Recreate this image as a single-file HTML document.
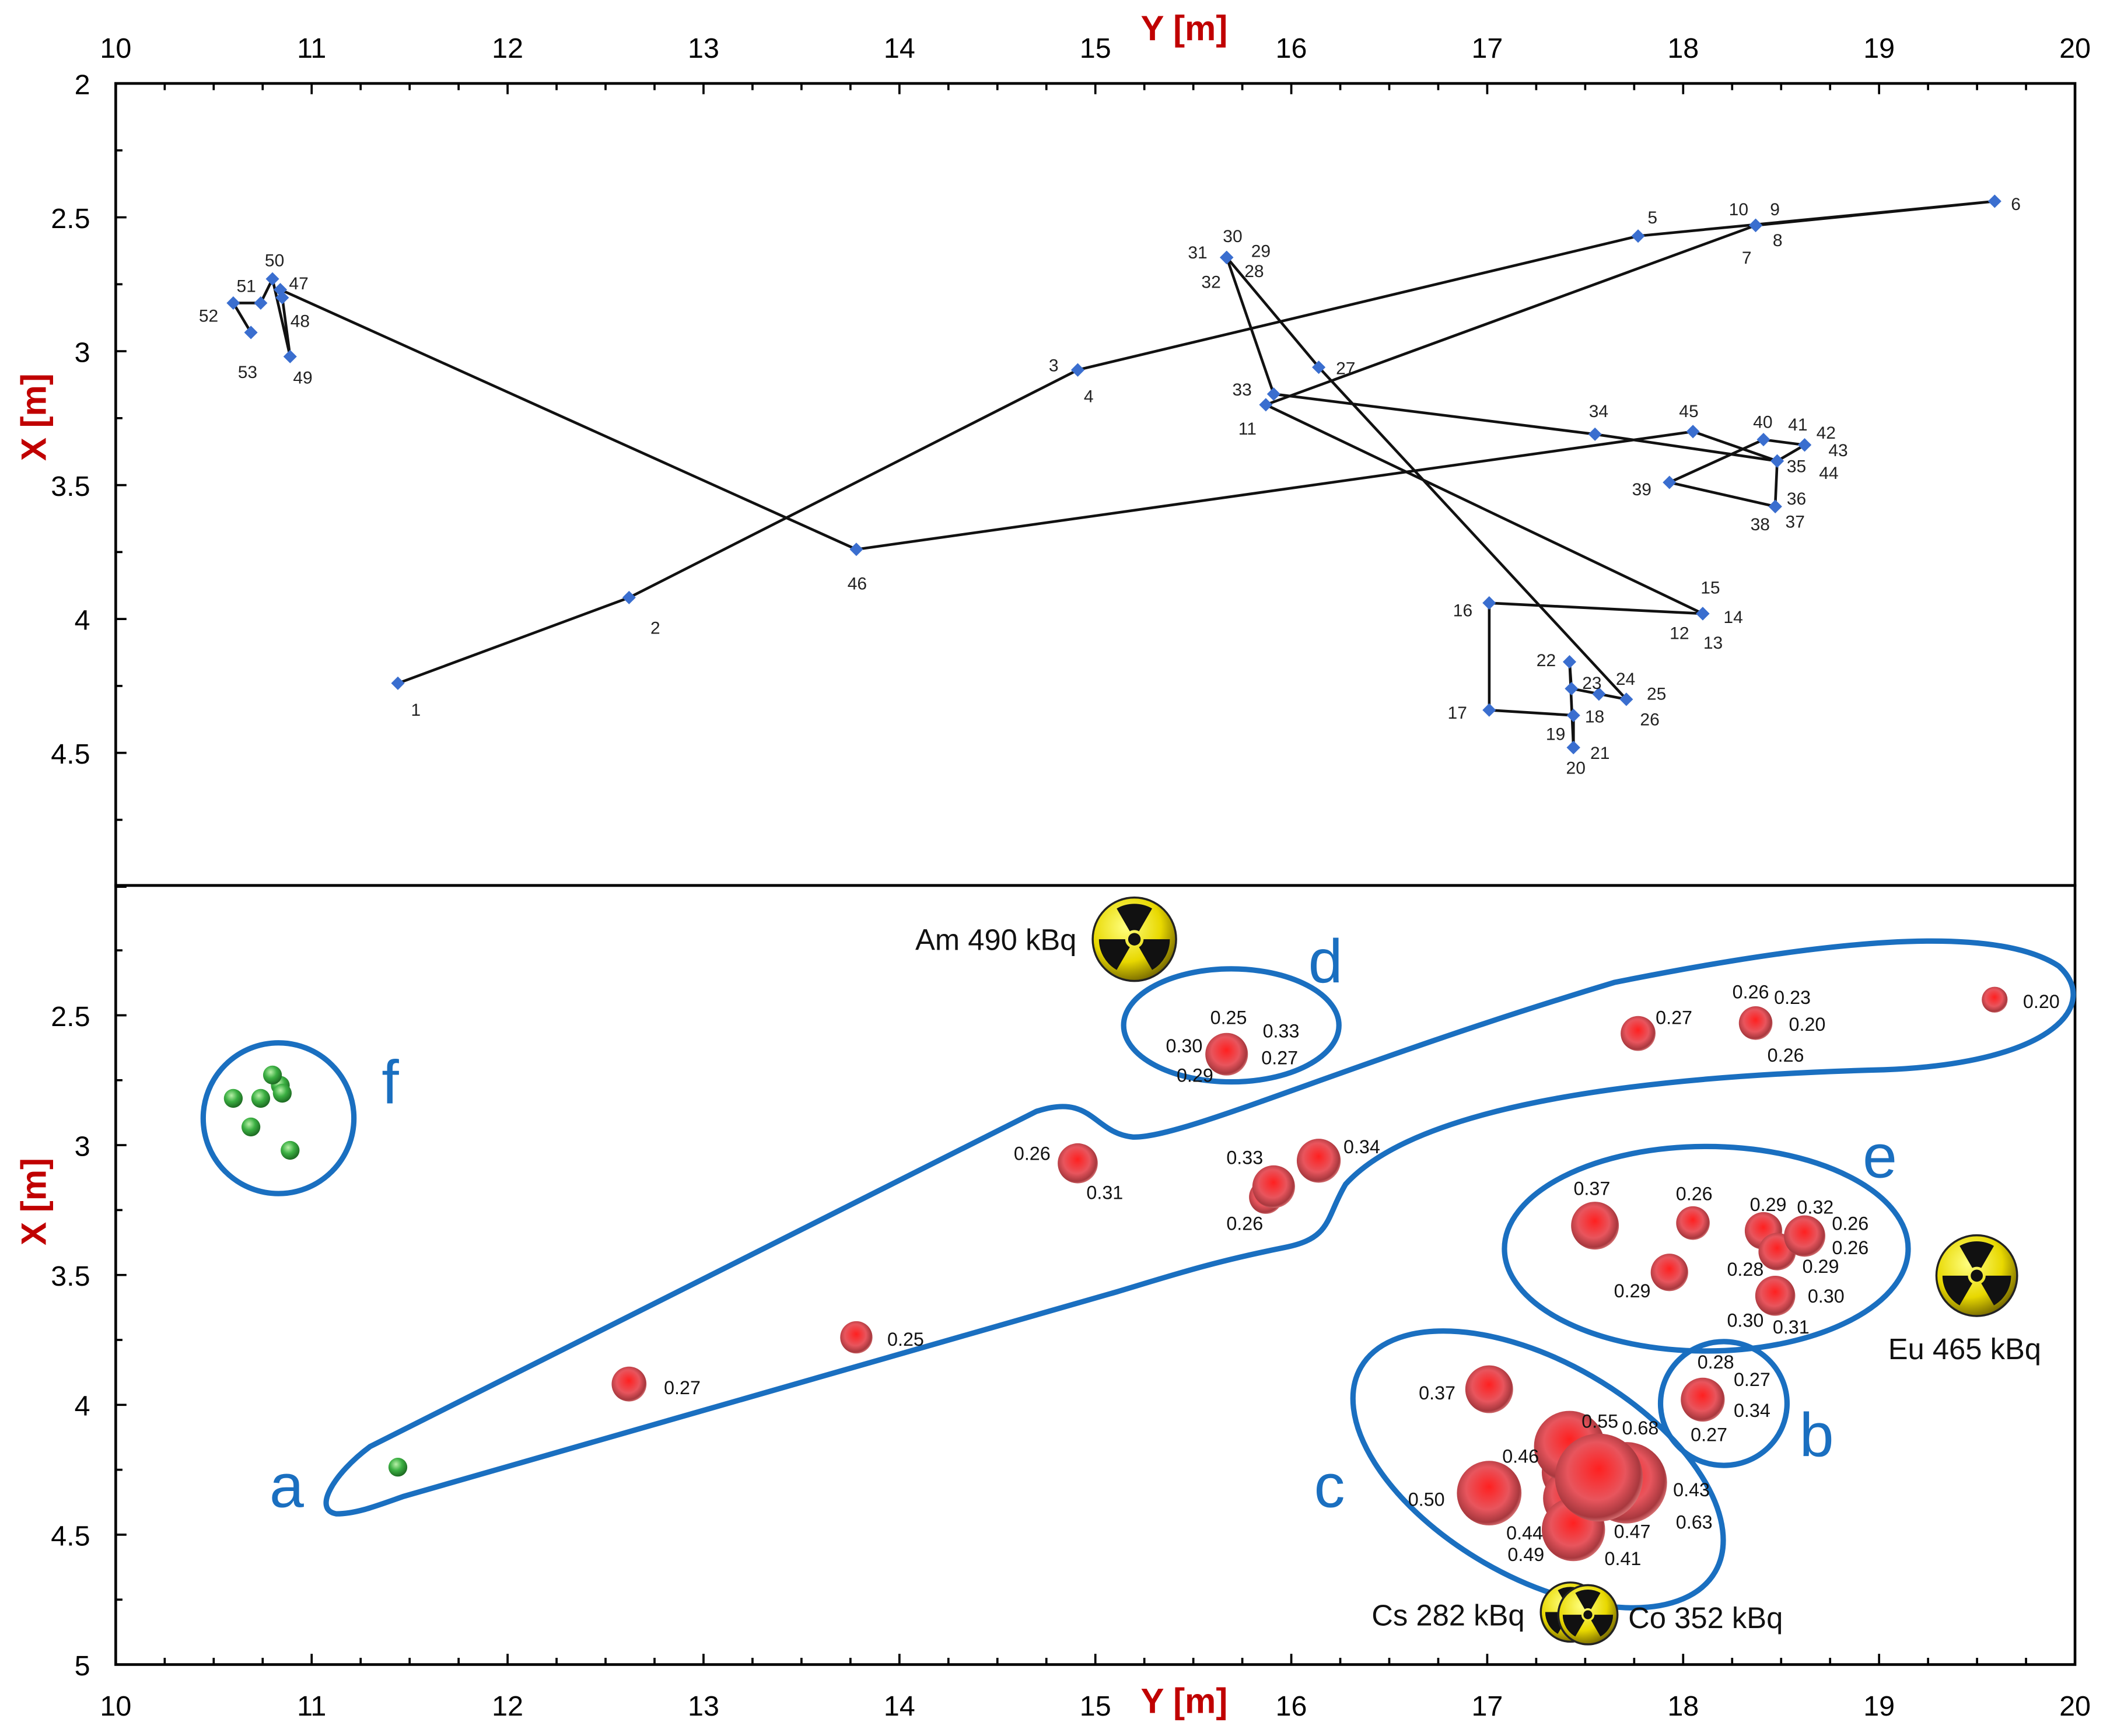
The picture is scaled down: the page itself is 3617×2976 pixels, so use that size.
<!DOCTYPE html>
<html><head><meta charset="utf-8"><style>
html,body{margin:0;padding:0;background:#fff;}
svg{display:block;}
text{font-family:"Liberation Sans",Arial,sans-serif;}
</style></head><body>
<svg id="chart" xmlns="http://www.w3.org/2000/svg" width="3617" height="2976" viewBox="0 0 1568 1290.1" preserveAspectRatio="none">
<defs>
<radialGradient id="redG" cx="0.45" cy="0.45" r="0.6" fx="0.5" fy="0.4">
<stop offset="0" stop-color="#ff2020"/><stop offset="0.55" stop-color="#e8555d"/><stop offset="0.85" stop-color="#a8383e"/><stop offset="1" stop-color="#f09090"/></radialGradient>
<radialGradient id="greenG" cx="0.4" cy="0.35" r="0.65"><stop offset="0" stop-color="#b8f0a8"/><stop offset="0.5" stop-color="#3cb043"/><stop offset="1" stop-color="#1d6b22"/></radialGradient>
<radialGradient id="yelG" cx="0.4" cy="0.35" r="0.7"><stop offset="0" stop-color="#ffff80"/><stop offset="0.6" stop-color="#e8d800"/><stop offset="1" stop-color="#6b5e00"/></radialGradient>
</defs>
<g id="topPlot"></g>
<g id="botPlot"></g>
</svg>
<script>
// ---- data ----
const ptY=[11.44,12.62,14.91,14.91,17.77,19.59,18.37,18.37,18.37,18.37,15.87,18.10,18.10,18.10,18.10,17.01,17.01,17.44,17.44,17.44,17.44,17.42,17.43,17.57,17.57,17.71,16.14,15.67,15.67,15.67,15.67,15.67,15.91,17.55,18.48,18.47,18.47,18.47,17.93,18.41,18.62,18.62,18.62,18.48,18.05,13.78,10.84,10.85,10.89,10.80,10.74,10.60,10.69];
const ptX=[4.24,3.92,3.07,3.07,2.57,2.44,2.53,2.53,2.53,2.53,3.20,3.98,3.98,3.98,3.98,3.94,4.34,4.36,4.48,4.48,4.48,4.16,4.26,4.28,4.28,4.30,3.06,2.65,2.65,2.65,2.65,2.65,3.16,3.31,3.41,3.58,3.58,3.58,3.49,3.33,3.35,3.35,3.35,3.41,3.30,3.74,2.77,2.80,3.02,2.73,2.82,2.82,2.93];
const ptLabels=[["1",309,527],["2",487,466],["3",783,271],["4",809,294],["5",1228,161],["6",1498,151],["10",1292,155],["9",1319,155],["7",1298,191],["8",1321,178],["30",916,175],["29",937,186],["31",890,187],["28",932,201],["32",900,209],["27",1000,273],["33",923,289],["11",927,318],["34",1188,305],["45",1255,305],["40",1310,313],["41",1336,315],["42",1357,321],["43",1366,334],["35",1335,346],["44",1359,351],["39",1220,363],["36",1335,370],["37",1334,387],["38",1308,389],["46",637,433],["15",1271,436],["14",1288,458],["12",1248,470],["13",1273,477],["16",1087,453],["17",1083,529],["22",1149,490],["23",1183,507],["24",1208,504],["25",1231,515],["26",1226,534],["18",1185,532],["19",1156,545],["20",1171,570],["21",1189,559],["47",222,210],["50",204,193],["51",183,212],["52",155,234],["48",223,238],["53",184,276],["49",225,280]];
const bubY=[12.62,14.91,17.77,19.59,18.37,15.67,16.14,15.87,15.91,17.55,18.05,18.41,18.62,18.48,17.93,18.47,13.78,18.10,17.01,17.01,17.44,17.42,17.43,17.57,17.71,17.44];
const bubX=[3.92,3.07,2.57,2.44,2.53,2.65,3.06,3.20,3.16,3.31,3.30,3.33,3.35,3.41,3.49,3.58,3.74,3.98,3.94,4.34,4.48,4.16,4.26,4.28,4.30,4.36];
const bubVal=[0.27,0.31,0.27,0.20,0.26,0.33,0.34,0.26,0.33,0.37,0.26,0.29,0.32,0.29,0.29,0.31,0.25,0.34,0.37,0.50,0.49,0.55,0.46,0.68,0.63,0.47];
const greenY=[11.44,10.84,10.85,10.89,10.80,10.74,10.60,10.69];
const greenX=[4.24,2.77,2.80,3.02,2.73,2.82,2.82,2.93];
const doseLabels=[["0.27",507,1031],["0.25",673,995],["0.26",767,857],["0.31",821,886],["0.25",913,756],["0.33",952,766],["0.30",880,777],["0.27",951,786],["0.29",888,799],["0.33",925,860],["0.26",925,909],["0.34",1012,852],["0.27",1244,756],["0.26",1301,737],["0.23",1332,741],["0.20",1343,761],["0.26",1327,784],["0.20",1517,744],["0.37",1183,883],["0.26",1259,887],["0.29",1314,895],["0.32",1349,897],["0.26",1375,909],["0.26",1375,927],["0.29",1353,941],["0.28",1297,943],["0.29",1213,959],["0.30",1357,963],["0.30",1297,981],["0.31",1331,986],["0.28",1275,1012],["0.27",1302,1025],["0.34",1302,1048],["0.27",1270,1066],["0.37",1068,1035],["0.55",1189,1056],["0.68",1219,1061],["0.46",1130,1082],["0.50",1060,1114],["0.43",1257,1107],["0.63",1259,1131],["0.44",1133,1139],["0.47",1213,1138],["0.49",1134,1155],["0.41",1206,1158]];
const yTicks=[10,11,12,13,14,15,16,17,18,19,20];
const xTicksTop=[2,2.5,3,3.5,4,4.5];
const xTicksBot=[2.5,3,3.5,4,4.5,5];

// ---- axes ----
const L=86,R=1542,T=62,M=658,B=1237;
const sx=y=>L+(y-10)*145.6;
const sTop=x=>T+(x-2)*199;
const sBot=x=>M+(x-2)*193;
const NS='http://www.w3.org/2000/svg';
function mk(parent,tag,attrs,txt){const el=document.createElementNS(NS,tag);for(const k in attrs)el.setAttribute(k,attrs[k]);if(txt!==undefined)el.textContent=txt;parent.appendChild(el);return el;}
const gTop=document.getElementById('topPlot'),gBot=document.getElementById('botPlot');
let e;

e=mk(gTop,'rect',{x:L,y:T,width:R-L,height:M-T,fill:'none',stroke:'#000','stroke-width':2});


e=mk(gBot,'rect',{x:L,y:M,width:R-L,height:B-M,fill:'none',stroke:'#000','stroke-width':2});



for(let v=10;v<=20.001;v+=0.25){
  const x=sx(v),maj=Math.abs(v-Math.round(v))<1e-6,len=maj?8:5;
  e=mk(gTop,'line',{x1:x,y1:T,x2:x,y2:T+len,stroke:'#000','stroke-width':1.6});
  
  
  e=mk(gBot,'line',{x1:x,y1:B,x2:x,y2:B-len,stroke:'#000','stroke-width':1.6});
  
  
}
for(let v=2;v<=5.001;v+=0.25){
  const maj=Math.abs(v*2-Math.round(v*2))<1e-6,len=maj?8:5;
  e=mk(gTop,'line',{x1:L,y1:sTop(v),x2:L+len,y2:sTop(v),stroke:'#000','stroke-width':1.6});
  
  
  e=mk(gBot,'line',{x1:L,y1:sBot(v),x2:L+len,y2:sBot(v),stroke:'#000','stroke-width':1.6});
  
  
}
yTicks.forEach(v=>{
  e=mk(gTop,'text',{x:sx(v),y:43,'font-size':21,'text-anchor':'middle'},String(v));
  
  
  e=mk(gBot,'text',{x:sx(v),y:1275,'font-size':21,'text-anchor':'middle'},String(v));
  
  
});
xTicksTop.forEach(v=>{
  e=mk(gTop,'text',{x:67,y:sTop(v)+8,'font-size':21,'text-anchor':'end'},String(v));
  
  
});
xTicksBot.forEach(v=>{
  e=mk(gBot,'text',{x:67,y:sBot(v)+8,'font-size':21,'text-anchor':'end'},String(v));
  
  
});
[[880,30,0,gTop,'top-axis-title','Y [m]'],[880,1273,0,gBot,'bottom-axis-title','Y [m]'],[34,310,-90,gTop,'top-left-axis-title','X [m]'],[34,893,-90,gBot,'bottom-left-axis-title','X [m]']].forEach(a=>{
  e=mk(a[3],'text',{x:a[0],y:a[1],'font-size':26,'font-weight':'bold',fill:'#c00000','text-anchor':'middle',transform:`rotate(${a[2]} ${a[0]} ${a[1]})`},a[5]);
  
  
});

let d='';ptY.forEach((y,i)=>{d+=(i?'L':'M')+sx(y).toFixed(1)+' '+sTop(ptX[i]).toFixed(1)+' ';});
e=mk(gTop,'path',{d:d,fill:'none',stroke:'#111','stroke-width':2,'stroke-linejoin':'round'});


ptY.forEach((y,i)=>{
  const cx=sx(y),cy=sTop(ptX[i]);
  e=mk(gTop,'path',{d:`M${cx} ${cy-5}L${cx+5} ${cy}L${cx} ${cy+5}L${cx-5} ${cy}Z`,fill:'#3a6ecf'});
  
  
});
ptLabels.forEach(l=>{
  e=mk(gTop,'text',{x:l[1],y:l[2]+5,'font-size':13,'text-anchor':'middle',fill:'#222'},l[0]);
  
  
});

const blue='#1a6fc0';
e=mk(gBot,'path',{d:'M250 1125 C232 1122 248 1095 275 1075 L770 826 C812 812 812 842 842 845 C880 846 1000 790 1200 730 C1350 700 1480 685 1530 718 C1560 745 1530 790 1400 795 C1200 800 1050 825 1000 880 C985 905 990 920 955 927 C900 938 870 948 830 960 L300 1112 C280 1119 265 1125 250 1125 Z',fill:'none',stroke:blue,'stroke-width':4});


[['group-b-outline',1281,1043,47,46,0],['group-c-outline',1143,1092,152,80,30],['group-d-outline',915,762,80,42,0],['group-e-outline',1268,928,150,76,0],['group-f-outline',207,831,56,56,0]].forEach(o=>{
  e=mk(gBot,'ellipse',{cx:o[1],cy:o[2],rx:o[3],ry:o[4],transform:`rotate(${o[5]} ${o[1]} ${o[2]})`,fill:'none',stroke:blue,'stroke-width':4});
  
  
});
[['a',213,1120],['b',1350,1082],['c',988,1120],['d',985,730],['e',1397,875],['f',290,820]].forEach(t=>{
  e=mk(gBot,'text',{x:t[1],y:t[2],'font-size':46,fill:blue,'text-anchor':'middle'},t[0]);
  
  
});

const order=bubVal.map((v,i)=>i).sort((a,b)=>bubVal[a]-bubVal[b]);
order.forEach(i=>{
  e=mk(gBot,'circle',{cx:sx(bubY[i]),cy:sBot(bubX[i]),r:bubVal[i]*48,fill:'url(#redG)'});
  
  
});
greenY.forEach((y,i)=>{
  e=mk(gBot,'circle',{cx:sx(y),cy:sBot(greenX[i]),r:7,fill:'url(#greenG)'});
  
  
});
doseLabels.forEach(l=>{
  e=mk(gBot,'text',{x:l[1],y:l[2]+5,'font-size':14,'text-anchor':'middle',fill:'#111'},l[0]);
  
  
});

function rad(cx,cy,r,name){
  const g=mk(gBot,'g',{});
  
  
  mk(g,'circle',{cx:cx,cy:cy,r:r,fill:'url(#yelG)',stroke:'#222','stroke-width':1.5});
  const r1=r*0.22,r2=r*0.85;
  [-90,30,150].forEach(a=>{
    const a1=(a-30)*Math.PI/180,a2=(a+30)*Math.PI/180;
    mk(g,'path',{d:`M${cx+r1*Math.cos(a1)} ${cy+r1*Math.sin(a1)} L${cx+r2*Math.cos(a1)} ${cy+r2*Math.sin(a1)} A${r2} ${r2} 0 0 1 ${cx+r2*Math.cos(a2)} ${cy+r2*Math.sin(a2)} L${cx+r1*Math.cos(a2)} ${cy+r1*Math.sin(a2)} A${r1} ${r1} 0 0 0 ${cx+r1*Math.cos(a1)} ${cy+r1*Math.sin(a1)}Z`,fill:'#111'});
  });
  mk(g,'circle',{cx:cx,cy:cy,r:r*0.15,fill:'#111'});
}
rad(843,698,31,'am-source-icon');
rad(1469,948,30,'eu-source-icon');
rad(1167,1198,22,'cs-source-icon');
rad(1180,1200,22,'co-source-icon');
[['Am 490 kBq',800,706,'end','am-source-label'],['Eu 465 kBq',1460,1010,'middle','eu-source-label'],['Cs 282 kBq',1133,1208,'end','cs-source-label'],['Co 352 kBq',1210,1210,'start','co-source-label']].forEach(t=>{
  e=mk(gBot,'text',{x:t[1],y:t[2],'font-size':22,'text-anchor':t[3],fill:'#111'},t[0]);
  
  
});
</script>
</body></html>
